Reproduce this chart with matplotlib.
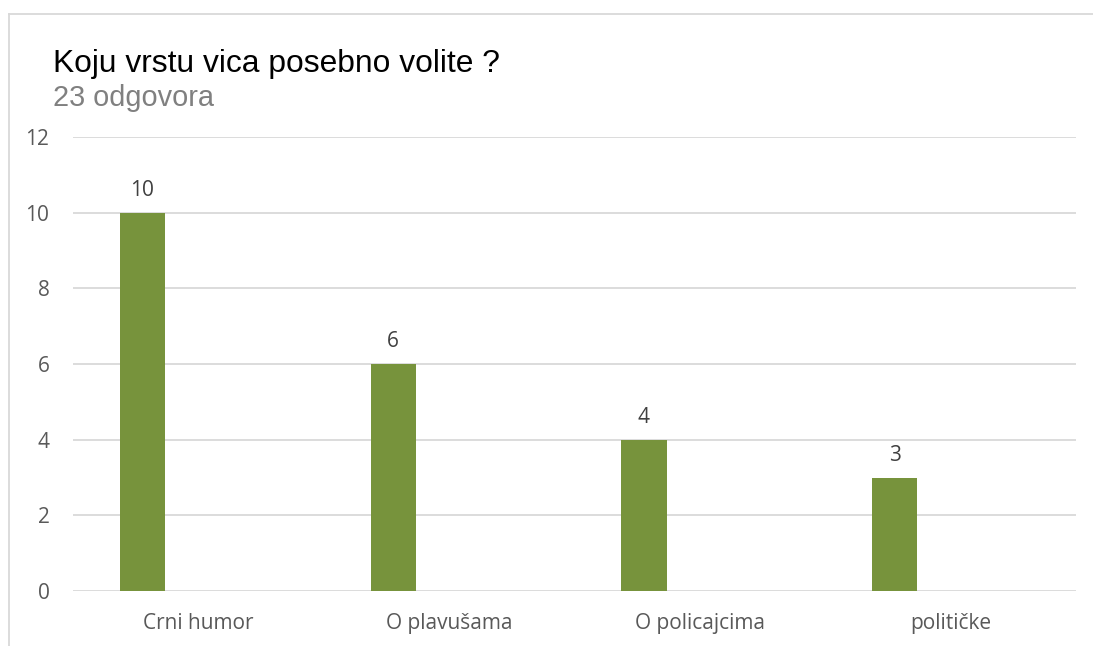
import matplotlib
matplotlib.use("Agg")
import matplotlib.pyplot as plt
from matplotlib.lines import Line2D

categories = ["Crni humor", "O plavušama", "O policajcima", "političke"]
values = [10, 6, 4, 3]
yticks = [0, 2, 4, 6, 8, 10, 12]
title = "Koju vrstu vica posebno volite ?"
subtitle = "23 odgovora"

W, H = 1093, 646
fig = plt.figure(figsize=(W / 100, H / 100), dpi=100)
fig.patch.set_facecolor("white")

# frame (top and left edges visible)
fig.add_artist(Line2D([8.5 / W, 1.0], [1 - 13.5 / H, 1 - 13.5 / H], color="#d9d9d9", lw=1.3))
fig.add_artist(Line2D([8.5 / W, 8.5 / W], [0.0, 1 - 13.5 / H], color="#d9d9d9", lw=1.3))

ax = fig.add_axes([73 / W, 1 - 591 / H, (1076 - 73) / W, (591 - 137) / H])
x = list(range(len(categories)))
bar_x = [i - 0.223 for i in x]
ax.bar(bar_x, values, width=0.18, color="#77933C", zorder=3)
for bx, v in zip(bar_x, values):
    ax.annotate(str(v), (bx, v), xytext=(0, 12.2), textcoords="offset points",
                ha="center", va="baseline", fontsize=15, color="#404040", family="Open Sans")

ax.set_xlim(-0.5, 3.5)
ax.set_ylim(0, 12)
ax.set_yticks(yticks)
ax.set_yticklabels([str(t) for t in yticks], family="Open Sans", fontsize=15, color="#595959")
ax.set_xticks(x)
ax.set_xticklabels(categories, family="Open Sans", fontsize=15, color="#595959")
ax.tick_params(axis="both", length=0)
ax.tick_params(axis="y", pad=17)
ax.tick_params(axis="x", pad=16)
for s in ax.spines.values():
    s.set_visible(False)
ax.grid(axis="y", color="#d9d9d9", lw=1.3, zorder=0)
ax.set_axisbelow(True)

fig.text(53 / W, 1 - 72 / H, title, fontsize=22.9, family="Liberation Sans", color="#000000",
         ha="left", va="baseline")
fig.text(53 / W, 1 - 106 / H, subtitle, fontsize=20.8, family="Liberation Sans", color="#808080",
         ha="left", va="baseline")

fig.savefig("out.png", dpi=100)
